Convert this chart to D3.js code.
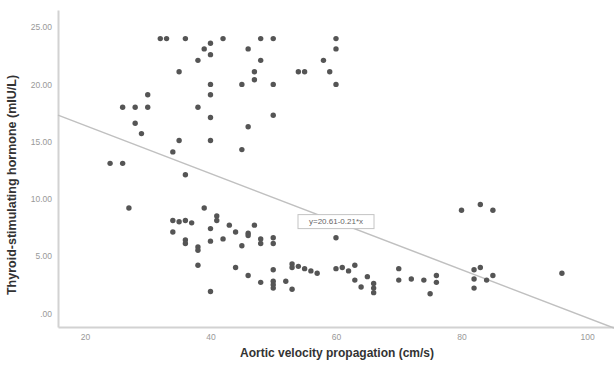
<!DOCTYPE html>
<html>
<head>
<meta charset="utf-8">
<script src="https://cdn.jsdelivr.net/npm/d3@7/dist/d3.min.js"></script>
<style>
  html, body { margin: 0; padding: 0; background: #fff; }
  svg { display: block; font-family: "Liberation Sans", Arial, sans-serif; }
</style>
</head>
<body>
<div id="chart"></div>
<script>
// Aortic velocity propagation (cm/s) vs TSH (mIU/L)
const avpValues = [
  24, 26, 26, 28, 28, 29, 30, 30, 32, 33, 34, 35, 35, 36, 36, 38, 38, 39, 40, 40,
  40, 40, 40, 40, 42, 45, 45, 46, 46, 47, 47, 48, 48, 50, 50, 50, 54, 55, 58, 59,
  60, 60, 60,
  27, 34, 35, 36, 37, 34, 36, 36, 38, 38, 38, 39, 40, 40, 40, 41, 41, 42, 43, 44,
  44, 45, 46, 46, 46, 47, 48, 48, 48, 50, 50, 50, 50, 50, 50, 52, 53, 53, 53, 54,
  55, 56, 57, 60, 60, 61, 62, 63, 63, 64, 65, 66, 66, 66, 70, 70, 72, 74, 75, 76,
  76, 80, 83, 85, 82, 83, 82, 82, 84, 85, 96
];
const tshValues = [
  13.1, 13.1, 18.0, 18.0, 16.6, 15.7, 19.1, 18.0, 24.0, 24.0, 14.1, 15.1, 21.1, 24.0, 12.1, 22.1, 18.0, 23.1, 23.6, 22.6,
  20.0, 19.1, 17.1, 15.1, 24.0, 20.0, 14.3, 23.1, 16.3, 21.1, 20.4, 24.0, 22.1, 24.0, 20.0, 17.3, 21.1, 21.1, 22.1, 21.1,
  24.0, 23.1, 20.0,
  9.2, 8.1, 8.0, 8.1, 7.9, 7.1, 6.4, 6.1, 5.8, 5.5, 4.2, 9.2, 7.4, 6.3, 1.9, 8.5, 8.1, 6.5, 7.7, 7.1,
  4.0, 5.9, 7.0, 6.8, 3.3, 7.7, 6.5, 6.1, 2.7, 6.6, 6.1, 3.8, 2.8, 2.5, 2.2, 2.8, 4.3, 4.0, 2.1, 4.1,
  3.9, 3.7, 3.5, 6.6, 3.9, 4.0, 3.7, 4.2, 2.9, 2.3, 3.2, 2.6, 2.2, 1.8, 3.9, 2.9, 3.0, 2.9, 1.7, 3.3,
  2.7, 9.0, 9.5, 9.0, 3.8, 4.0, 3.0, 2.2, 2.9, 3.3, 3.5
];
const xTicks = [20, 40, 60, 80, 100];
const yTicks = [0, 5, 10, 15, 20, 25];
const fitIntercept = 20.61;
const fitSlope = -0.21;
const fitLabel = "y=20.61-0.21*x";
const labelAt = 60;
const xTitle = "Aortic velocity propagation (cm/s)";
const yTitle = "Thyroid-stimulating hormone (mIU/L)";

const width = 614, height = 365;
const margin = { top: 10, right: 0, bottom: 38, left: 58 };
const innerWidth = width - margin.left - margin.right;
const innerHeight = height - margin.top - margin.bottom;

const svg = d3.select("#chart").append("svg")
  .attr("width", width)
  .attr("height", height);

const g = svg.append("g")
  .attr("transform", `translate(${margin.left},${margin.top})`);

const x = d3.scaleLinear().domain([15.7, 104.3]).range([0, innerWidth]);
const y = d3.scaleLinear().domain([-1.2, 26.5]).range([innerHeight, 0]);

const points = avpValues.map((v, i) => ({ x: v, y: tshValues[i] }));

// axes
const fmtY = d => d === 0 ? ".00" : d3.format(".2f")(d);

g.append("g")
  .attr("transform", `translate(0,${innerHeight})`)
  .call(d3.axisBottom(x).tickValues(xTicks).tickSize(0).tickPadding(7).tickFormat(d3.format("d")))
  .call(a => a.select(".domain").attr("stroke", "#d2d2d2").attr("stroke-width", 2))
  .selectAll("text")
  .attr("fill", "#999")
  .style("font-size", "8.5px");

g.append("g")
  .call(d3.axisLeft(y).tickValues(yTicks).tickSize(0).tickPadding(6).tickFormat(fmtY))
  .call(a => a.select(".domain").attr("stroke", "#d2d2d2").attr("stroke-width", 2))
  .selectAll("text")
  .attr("fill", "#999")
  .style("font-size", "8.5px");

// fit line
const xd = x.domain();
g.append("line")
  .attr("x1", x(xd[0]))
  .attr("y1", y(fitIntercept + fitSlope * xd[0]))
  .attr("x2", x(xd[1]))
  .attr("y2", y(fitIntercept + fitSlope * xd[1]))
  .attr("stroke", "#c0c0c0")
  .attr("stroke-width", 1.5);

// dots
g.selectAll(".dot")
  .data(points)
  .enter().append("circle")
  .attr("class", "dot")
  .attr("cx", d => x(d.x))
  .attr("cy", d => y(d.y))
  .attr("r", 2.7)
  .attr("fill", "#555");

// equation label on the line
const lx = x(labelAt), ly = y(fitIntercept + fitSlope * labelAt);
const lab = g.append("g").attr("transform", `translate(${lx},${ly})`);
lab.append("rect")
  .attr("x", -38).attr("y", -7)
  .attr("width", 76).attr("height", 14)
  .attr("fill", "#fff")
  .attr("stroke", "#c4c4c4")
  .attr("stroke-width", 1);
lab.append("text")
  .attr("text-anchor", "middle")
  .attr("dy", "0.35em")
  .attr("fill", "#666")
  .style("font-size", "8px")
  .text(fitLabel);

// titles
svg.append("text")
  .attr("x", 337)
  .attr("y", 357)
  .attr("text-anchor", "middle")
  .attr("fill", "#333")
  .style("font-size", "12px")
  .style("font-weight", "bold")
  .text(xTitle);

svg.append("text")
  .attr("transform", `translate(16,185) rotate(-90)`)
  .attr("text-anchor", "middle")
  .attr("fill", "#333")
  .style("font-size", "12.5px")
  .style("font-weight", "bold")
  .text(yTitle);
</script>
</body>
</html>
